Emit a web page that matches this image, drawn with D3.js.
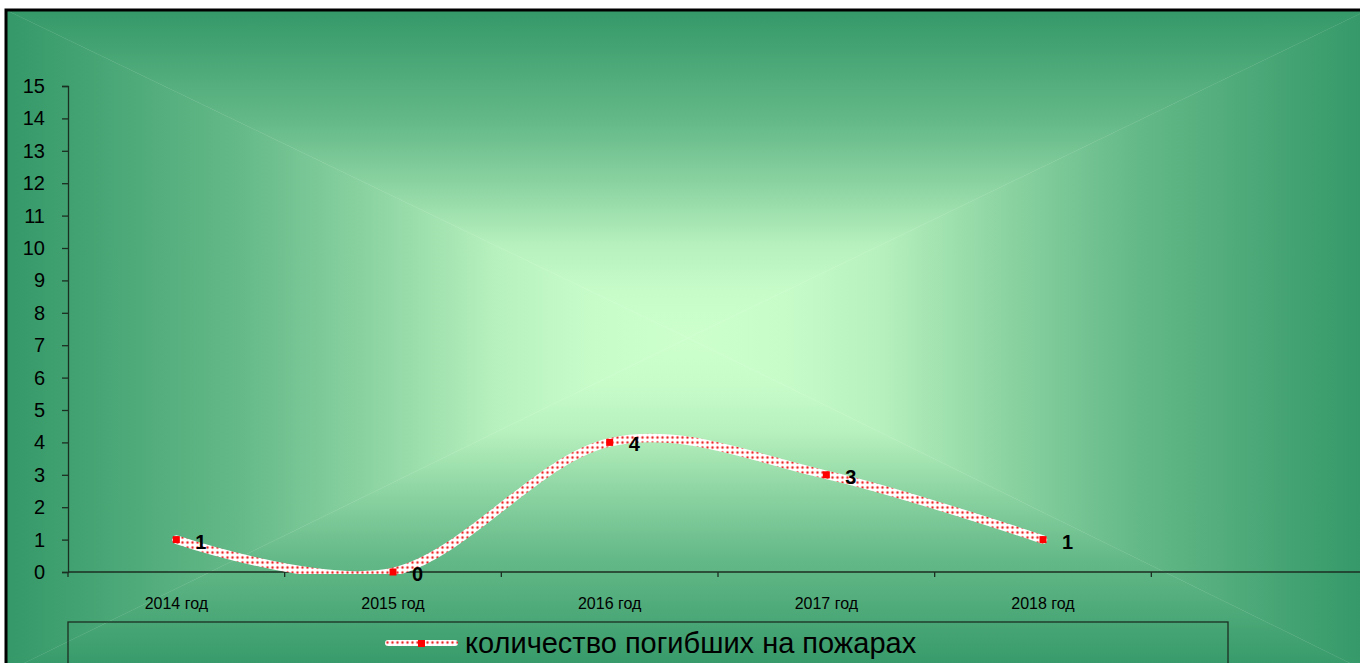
<!DOCTYPE html>
<html>
<head>
<meta charset="utf-8">
<script src="https://cdn.jsdelivr.net/npm/d3@7"></script>
<style>
  body { margin: 0; background: #fff; }
  svg { display: block; font-family: "Liberation Sans", Arial, sans-serif; }
</style>
</head>
<body>
<svg id="chart"></svg>
<script>
// chart data
const years = ["2014 год", "2015 год", "2016 год", "2017 год", "2018 год"];
const deaths = [1, 0, 4, 3, 1];
const yTicks = d3.range(0, 16);
const seriesName = "количество погибших на пожарах";

const width = 1360, height = 663;
const svg = d3.select("#chart").attr("width", width).attr("height", height);
const defs = svg.append("defs");

// chart area: path gradient from centre, built from 4 triangles
const area = {x0: 6, y0: 10, x1: 1368, y1: 672};
const cx = 688, cy = 338;
const edgeCol = "#349868", centreCol = "#ccffcc";
const mix = d3.interpolateRgb(edgeCol, centreCol);
// [offset, amount of centre colour]
const gradStops = [[0, 0], [0.35, 0.33], [0.55, 0.6], [0.72, 0.86], [0.86, 0.97], [1, 1]];

function addGrad(id, x1, y1, x2, y2) {
    let g = defs.append("linearGradient").attr("id", id)
        .attr("gradientUnits", "userSpaceOnUse")
        .attr("x1", x1).attr("y1", y1).attr("x2", x2).attr("y2", y2);
    gradStops.forEach(function(s) {
        g.append("stop").attr("offset", s[0]).attr("stop-color", mix(s[1]));
    });
}
addGrad("gTop", cx, area.y0, cx, cy);
addGrad("gBottom", cx, area.y1, cx, cy);
addGrad("gLeft", area.x0, cy, cx, cy);
addGrad("gRight", area.x1, cy, cx, cy);

const tris = [
    {id: "gTop", pts: [[area.x0, area.y0], [area.x1, area.y0], [cx, cy]]},
    {id: "gBottom", pts: [[area.x0, area.y1], [area.x1, area.y1], [cx, cy]]},
    {id: "gLeft", pts: [[area.x0, area.y0], [area.x0, area.y1], [cx, cy]]},
    {id: "gRight", pts: [[area.x1, area.y0], [area.x1, area.y1], [cx, cy]]}
];
svg.selectAll(".bg").data(tris).enter().append("polygon")
    .attr("points", d => d.pts.map(p => p.join(",")).join(" "))
    .attr("fill", d => "url(#" + d.id + ")")
    .attr("stroke", d => "url(#" + d.id + ")")
    .attr("stroke-width", 0.4);

svg.append("rect")
    .attr("x", area.x0).attr("y", area.y0)
    .attr("width", area.x1 - area.x0).attr("height", area.y1 - area.y0)
    .attr("fill", "none").attr("stroke", "#000").attr("stroke-width", 3);

// scales
const plot = {left: 68, right: 1368, top: 86, bottom: 572};
const x = d3.scaleBand().domain(years.concat([""])).range([plot.left, plot.right]);
const y = d3.scaleLinear().domain([0, 15]).range([plot.bottom, plot.top]);

// y axis
const yAxisG = svg.append("g")
    .attr("transform", "translate(" + plot.left + ",0)")
    .call(d3.axisLeft(y).tickValues(yTicks).tickSize(6).tickPadding(17).tickFormat(d3.format("d")));
yAxisG.select(".domain").attr("stroke", "#1b2e22").attr("stroke-width", 1.3);
yAxisG.selectAll(".tick line").attr("stroke", "#1b2e22").attr("stroke-width", 1.3);
yAxisG.selectAll(".tick text").attr("fill", "#000").style("font-size", "20px")
    .style("font-family", "'Liberation Sans', Arial, sans-serif");

// x axis
svg.append("line")
    .attr("x1", plot.left).attr("x2", plot.right)
    .attr("y1", plot.bottom).attr("y2", plot.bottom)
    .attr("stroke", "#1b2e22").attr("stroke-width", 1.3);
svg.selectAll(".xtick").data(x.domain()).enter().append("line")
    .attr("class", "xtick")
    .attr("x1", d => x(d)).attr("x2", d => x(d))
    .attr("y1", plot.bottom).attr("y2", plot.bottom + 5)
    .attr("stroke", "#1b2e22").attr("stroke-width", 1.3);
svg.selectAll(".xlabel").data(years).enter().append("text")
    .attr("class", "xlabel")
    .attr("x", d => x(d) + x.bandwidth() / 2)
    .attr("y", plot.bottom + 37)
    .attr("text-anchor", "middle")
    .style("font-size", "16px")
    .text(d => d);

// line pattern: white with red dots
const pat = defs.append("pattern").attr("id", "dots")
    .attr("patternUnits", "userSpaceOnUse").attr("width", 5).attr("height", 5);
pat.append("rect").attr("width", 5).attr("height", 5).attr("fill", "#fff");
pat.append("circle").attr("cx", 2.5).attr("cy", 2.5).attr("r", 1.7).attr("fill", "#ffb0b0");
pat.append("circle").attr("cx", 2.5).attr("cy", 2.5).attr("r", 0.9).attr("fill", "#e82828");

defs.append("clipPath").attr("id", "plotClip").append("rect")
    .attr("x", plot.left).attr("y", 0)
    .attr("width", plot.right - plot.left).attr("height", plot.bottom + 2);

const pts = deaths.map((v, i) => [x(years[i]) + x.bandwidth() / 2, y(v)]);
const line = d3.line().curve(d3.curveCardinal.tension(0));

svg.append("path")
    .attr("d", line(pts))
    .attr("clip-path", "url(#plotClip)")
    .attr("fill", "none")
    .attr("stroke", "url(#dots)")
    .attr("stroke-width", 8.5)
    .attr("stroke-linecap", "round");

svg.selectAll(".marker").data(pts).enter().append("rect")
    .attr("class", "marker")
    .attr("x", d => d[0] - 3.5).attr("y", d => d[1] - 3.5)
    .attr("width", 7).attr("height", 7)
    .attr("fill", "#ff0000");

svg.selectAll(".dlabel").data(deaths).enter().append("text")
    .attr("class", "dlabel")
    .attr("x", (d, i) => pts[i][0] + 19)
    .attr("y", (d, i) => pts[i][1] + 9)
    .style("font-size", "20px").style("font-weight", "bold")
    .text(d => d);

// legend
const leg = {x0: 68, y0: 622, x1: 1228};
svg.append("rect")
    .attr("x", leg.x0).attr("y", leg.y0)
    .attr("width", leg.x1 - leg.x0).attr("height", 80)
    .attr("fill", "none").attr("stroke", "#1b2e22").attr("stroke-width", 1.3);
svg.append("line")
    .attr("x1", 388).attr("x2", 455).attr("y1", 643).attr("y2", 643)
    .attr("stroke", "url(#dots)").attr("stroke-width", 6).attr("stroke-linecap", "round");
svg.append("rect")
    .attr("x", 418).attr("y", 640).attr("width", 7).attr("height", 7).attr("fill", "#ff0000");
svg.append("text")
    .attr("x", 465).attr("y", 653)
    .style("font-size", "29px")
    .text(seriesName);
</script>
</body>
</html>
